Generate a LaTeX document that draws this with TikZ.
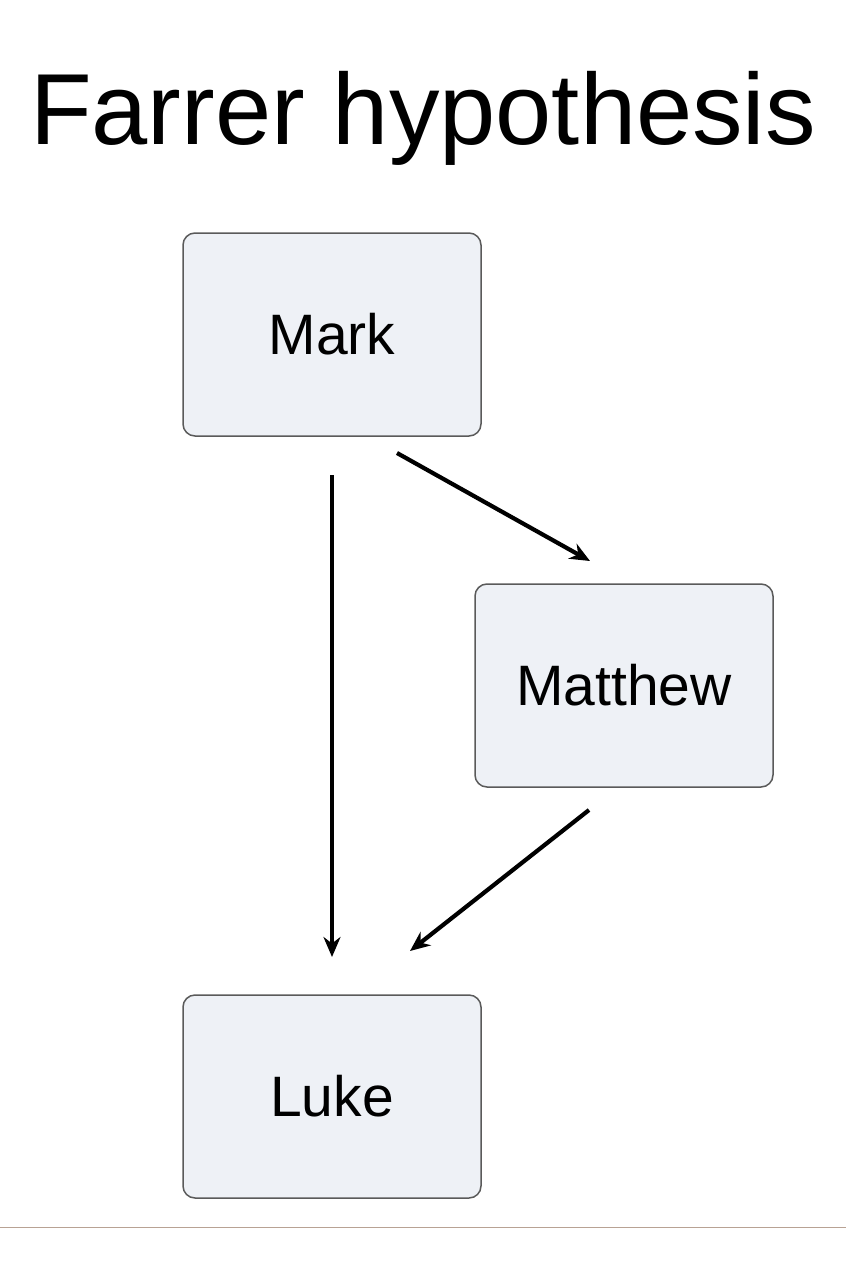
\documentclass[tikz,border=0pt]{standalone}
\usepackage{fontspec}
\setmainfont{Liberation Sans}
\usetikzlibrary{arrows.meta}
\definecolor{boxfill}{HTML}{EEF1F6}
\definecolor{boxline}{HTML}{5A5A5A}
\definecolor{rule}{HTML}{B8A294}
\begin{document}
\begin{tikzpicture}[x=1pt,y=-1pt,
  gbox/.style={draw=boxline,line width=1.5pt,fill=boxfill,rounded corners=12pt,minimum width=298pt,minimum height=203pt,inner sep=0pt,font=\fontsize{57}{60}\selectfont},
  conn/.style={line width=4.2pt,-{Stealth[length=20pt,width=17pt]}}]
\useasboundingbox (0,0) rectangle (846,1284);
\node[anchor=base,font=\fontsize{101}{110}\selectfont] (title) at (423,145) {Farrer hypothesis};
\node[gbox] (mark) at (332,334.5) {Mark};
\node[gbox] (matthew) at (624,685.5) {Matthew};
\node[gbox] (luke) at (332,1096.5) {Luke};
\coordinate (a1) at (332,475); \coordinate (a2) at (332,957);
\coordinate (b1) at (397,453); \coordinate (b2) at (590,561);
\coordinate (c1) at (589,810); \coordinate (c2) at (410,951);
\draw[conn] (a1) -- (a2);
\draw[conn] (b1) -- (b2);
\draw[conn] (c1) -- (c2);
\coordinate (r1) at (0,1227.5); \coordinate (r2) at (846,1227.5);
\draw[rule,line width=1.5pt] (r1) -- (r2);
\end{tikzpicture}
\end{document}
